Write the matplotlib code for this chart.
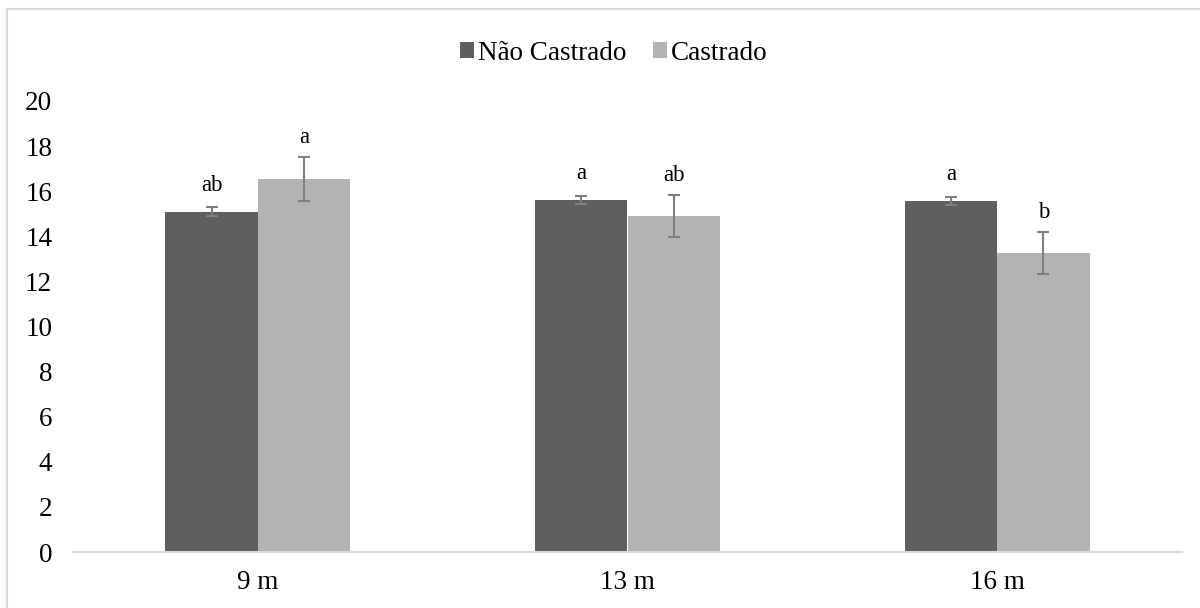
import numpy as np
import matplotlib.pyplot as plt
from matplotlib.patches import Rectangle

plt.rcParams['font.family'] = ['Liberation Serif', 'DejaVu Serif']

# data
categorias = ['9 m', '13 m', '16 m']
nao_castrado = [15.08, 15.61, 15.57]
nao_castrado_err = [0.2, 0.18, 0.18]
castrado = [16.54, 14.90, 13.26]
castrado_err = [0.97, 0.95, 0.95]
letras_nc = ['ab', 'a', 'a']
letras_c = ['a', 'ab', 'b']

fig = plt.figure(figsize=(12, 6.08), dpi=100)
ax = fig.add_axes([73 / 1200, 1 - 552 / 608, (1182 - 73) / 1200, (552 - 101) / 608])

# borda externa do grafico
fig.patches.append(Rectangle((7 / 1200, -0.1), 1.2, 1 - 9 / 608 + 0.1, transform=fig.transFigure,
                             fill=False, edgecolor='#d9d9d9', linewidth=1.5))

x = np.arange(len(categorias))
w = 0.25
err_kw = dict(ecolor='#7f7f7f', elinewidth=1.5, capsize=4.5, capthick=1.5)
ax.bar(x - w / 2, nao_castrado, w, yerr=nao_castrado_err, color='#5f5f5f',
       label='Não Castrado', error_kw=err_kw)
ax.bar(x + w / 2, castrado, w, yerr=castrado_err, color='#b3b3b3',
       label='Castrado', error_kw=err_kw)

for i in range(len(categorias)):
    ax.annotate(letras_nc[i], (x[i] - w / 2, nao_castrado[i] + nao_castrado_err[i]),
                xytext=(0, 12), textcoords='offset points', ha='center', va='baseline', fontsize=16.5)
    ax.annotate(letras_c[i], (x[i] + w / 2, castrado[i] + castrado_err[i]),
                xytext=(0, 10), textcoords='offset points', ha='center', va='baseline', fontsize=16.5)

ax.set_xlim(-0.5, 2.5)
ax.set_ylim(0, 20)
ax.set_yticks(range(0, 21, 2))
ax.set_xticks(x)
ax.set_xticklabels(categorias)
ax.tick_params(axis='both', length=0, labelsize=19.5, colors='black')
ax.tick_params(axis='y', pad=15)
ax.tick_params(axis='x', pad=13)
for s in ['top', 'right', 'left']:
    ax.spines[s].set_visible(False)
ax.spines['bottom'].set_color('#d9d9d9')
ax.spines['bottom'].set_linewidth(1.5)

fig.legend(loc='center', bbox_to_anchor=(614 / 1200, 1 - 53 / 608), ncol=2, frameon=False,
           fontsize=19.5, handlelength=0.5, handleheight=0.5, handletextpad=0.15, columnspacing=1.0)

plt.savefig('out.png')
